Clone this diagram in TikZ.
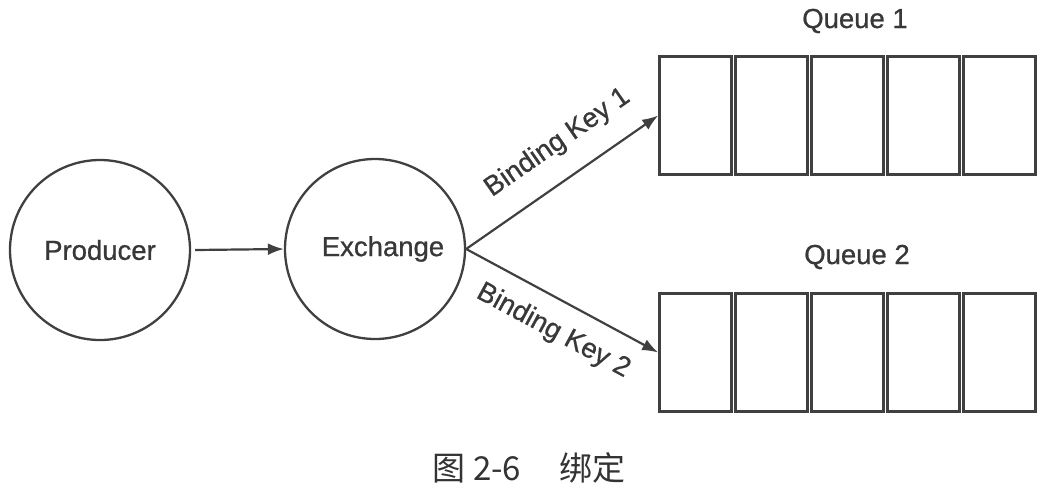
\documentclass[tikz,border=0pt]{standalone}
\usepackage{fontspec}
\setmainfont{Liberation Sans}[FakeBold=0.8]
\newfontfamily\cjk{Noto Sans CJK SC}
\usetikzlibrary{arrows.meta}
\definecolor{ln}{HTML}{404040}
\definecolor{tx}{HTML}{383838}
\begin{document}
\begin{tikzpicture}[x=1pt,y=-1pt,
  every node/.style={text=tx,font=\fontsize{27.5}{32}\selectfont},
  ball/.style={circle,draw=ln,line width=2.3pt,minimum size=180pt,inner sep=0pt},
  qbox/.style={rectangle,draw=ln,line width=2.6pt,minimum width=72pt,minimum height=118pt,inner sep=0pt},
  arr/.style={draw=ln,line width=2.2pt,-{Latex[length=16pt,width=12pt]}},
  lbl/.style={sloped,inner sep=3pt}]
\useasboundingbox (0,0) rectangle (1040,493);
\node[ball] (prod) at (100,250) {Producer};
\node[ball] (exch) at (375,249) {\hspace{16pt}Exchange};
\foreach \i/\x in {1/695.5,2/771.5,3/847.5,4/923.5,5/999.5}{
  \node[qbox] (qa\i) at (\x,115.5) {};
  \node[qbox] (qb\i) at (\x,352.5) {};
}
\node (q1) at (855,21) {Queue 1};
\node (q2) at (857,257) {Queue 2};
\draw[arr] (prod.east) ++(4,0) coordinate (ps) (ps) -- (exch.west);
\draw[arr] (exch.east) -- node[lbl,pos=0.58,above=18pt] {Binding Key 1} (qa1.west);
\draw[arr] (exch.east) -- node[lbl,pos=0.53,below=14pt] {Binding Key 2} (qb1.west);
\node[font=\cjk\fontsize{33}{38}\selectfont,text=black!80] (cap) at (529,468) {图 2-6\hspace{38pt}绑定};
\end{tikzpicture}
\end{document}
